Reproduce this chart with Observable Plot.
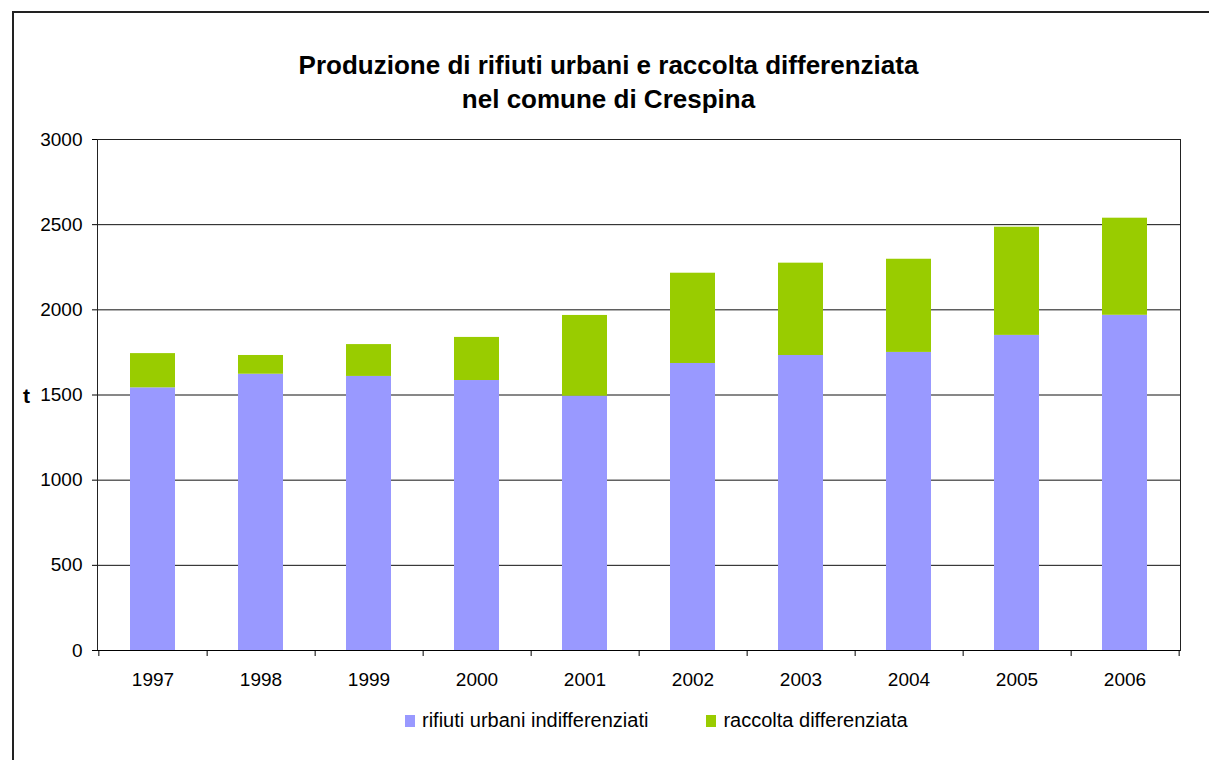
<!DOCTYPE html>
<html>
<head>
<meta charset="utf-8">
<script src="https://cdn.jsdelivr.net/npm/d3@7"></script>
<script src="https://cdn.jsdelivr.net/npm/@observablehq/plot@0.6"></script>
<style>
  html, body { margin: 0; padding: 0; background: #fff; }
  #wrap { position: relative; width: 1209px; height: 760px; overflow: hidden; font-family: "Liberation Sans", Arial, sans-serif; color: #000; }
  #border { position: absolute; left: 12px; top: 11px; width: 1300px; height: 900px; border-left: 2px solid #222; border-top: 2px solid #222; }
  #title { position: absolute; left: 4px; top: 48px; width: 1209px; text-align: center; font-weight: bold; font-size: 26px; line-height: 34px; }
  #ylab { position: absolute; left: 23px; top: 384px; font-weight: bold; font-size: 21px; }
  #chart { position: absolute; left: 0; top: 0; }
  #legend { position: absolute; left: 405px; top: 709px; display: flex; align-items: center; font-size: 20px; }
  .sw { display: inline-block; width: 10px; height: 12px; margin-right: 7px; }
  .item { display: flex; align-items: center; margin-right: 58px; }
</style>
</head>
<body>
<div id="wrap">
  <div id="border"></div>
  <div id="chart"></div>
  <div id="title">Produzione di rifiuti urbani e raccolta differenziata<br>nel comune di Crespina</div>
  <div id="ylab">t</div>
  <div id="legend"></div>
</div>
<script>
const years = ["1997","1998","1999","2000","2001","2002","2003","2004","2005","2006"];
const indifferenziati = [1542,1622,1609,1585,1493,1685,1732,1750,1850,1968];
const differenziata = [201,110,187,253,474,530,542,547,635,570];
const seriesNames = ["rifiuti urbani indifferenziati", "raccolta differenziata"];
const seriesColors = ["#9999FF", "#99CC00"];
const yTicks = [0,500,1000,1500,2000,2500,3000];

const data = [];
years.forEach((y, i) => data.push({year: y, series: seriesNames[0], value: indifferenziati[i]}));
years.forEach((y, i) => data.push({year: y, series: seriesNames[1], value: differenziata[i]}));

const W = 1209, H = 760, mL = 97, mR = 29, mT = 139, mB = 110;
const step = (W - mL - mR) / years.length;
const tickUnits = 6 * 3000 / (H - mT - mB);

const chart = Plot.plot({
  width: W, height: H,
  marginLeft: mL, marginRight: mR, marginTop: mT, marginBottom: mB,
  style: {fontFamily: "Liberation Sans, Arial, sans-serif", fontSize: "19px", background: "transparent", color: "#000"},
  x: {type: "band", domain: years, paddingInner: 0.58, paddingOuter: 0.29, label: null},
  y: {domain: [0, 3000], label: null},
  color: {domain: seriesNames, range: seriesColors},
  marks: [
    Plot.gridY(yTicks, {stroke: "#111", strokeOpacity: 1}),
    Plot.barY(data, {x: "year", y: "value", fill: "series"}),
    Plot.frame({stroke: "#222"}),
    Plot.ruleY([0], {stroke: "#000"}),
    Plot.ruleX(years, {x: d => d, dx: step / 2, y1: 0, y2: -tickUnits, stroke: "#000"}),
    Plot.ruleX([years[0]], {x: d => d, dx: -step / 2, y1: 0, y2: -tickUnits, stroke: "#000"}),
    Plot.axisY(yTicks, {tickSize: 5, tickPadding: 10, fontSize: 19, stroke: "#000", tickFormat: d => String(d)}),
    Plot.axisX({tickSize: 0, tickPadding: 22, fontSize: 19})
  ]
});
document.getElementById("chart").appendChild(chart);

const legend = document.getElementById("legend");
seriesNames.forEach((name, i) => {
  const item = document.createElement("div");
  item.className = "item";
  const sw = document.createElement("span");
  sw.className = "sw";
  sw.style.background = seriesColors[i];
  const label = document.createElement("span");
  label.textContent = name;
  item.appendChild(sw);
  item.appendChild(label);
  legend.appendChild(item);
});
</script>
</body>
</html>
